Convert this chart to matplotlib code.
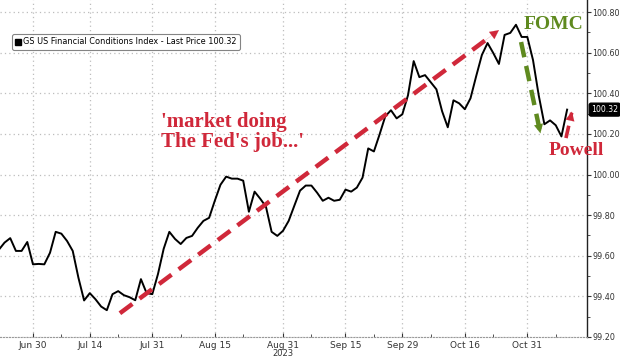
import matplotlib
matplotlib.use("Agg")
import matplotlib.pyplot as plt
from matplotlib.lines import Line2D
from matplotlib.ticker import MultipleLocator, FormatStrFormatter
import numpy as np
import pandas as pd


START_DATE = "2023-06-22"

# GS US Financial Conditions Index, one value per business day
fci_values = [
    99.630, 99.665, 99.687, 99.624, 99.624, 99.668, 99.558, 99.560, 99.558, 99.615,
    99.718, 99.709, 99.673, 99.624, 99.492, 99.380, 99.416, 99.386, 99.350, 99.332,
    99.411, 99.426, 99.406, 99.396, 99.381, 99.485, 99.416, 99.411, 99.510, 99.634,
    99.718, 99.683, 99.658, 99.688, 99.698, 99.738, 99.772, 99.787, 99.871, 99.950,
    99.990, 99.980, 99.980, 99.970, 99.817, 99.916, 99.881, 99.842, 99.718, 99.698,
    99.723, 99.772, 99.847, 99.921, 99.946, 99.946, 99.911, 99.871, 99.886, 99.871,
    99.876, 99.926, 99.916, 99.936, 99.985, 100.129, 100.114, 100.198, 100.287, 100.317,
    100.277, 100.297, 100.391, 100.559, 100.480, 100.490, 100.455, 100.420, 100.312, 100.233,
    100.366, 100.351, 100.322, 100.376, 100.485, 100.589, 100.648, 100.599, 100.545, 100.688,
    100.698, 100.738, 100.678, 100.678, 100.564, 100.391, 100.248, 100.267, 100.243, 100.188,
    100.320,
]

tick_dates = ["2023-06-30", "2023-07-14", "2023-07-31", "2023-08-15", "2023-08-31",
              "2023-09-15", "2023-09-29", "2023-10-16", "2023-10-31"]
tick_labels = ["Jun 30", "Jul 14", "Jul 31", "Aug 15", "Aug 31",
               "Sep 15", "Sep 29", "Oct 16", "Oct 31"]
last_price = 100.32
legend_label = "GS US Financial Conditions Index - Last Price 100.32"

RED = "#d0283a"
GREEN = "#5f8a1f"
GRID = "#bdbdbd"
TXT = "#333333"

dates = pd.bdate_range(START_DATE, periods=len(fci_values))
xs = np.arange(len(fci_values))
tick_pos = [dates.get_loc(pd.Timestamp(d)) for d in tick_dates]

fig = plt.figure(figsize=(6.2, 3.6), dpi=100)
ax = fig.add_axes([0.0, 1 - 337 / 360, 587 / 620, 337 / 360])

ax.plot(xs, fci_values, color="black", lw=1.4, zorder=3)

ax.set_xlim(0.2, 103.5)
ax.set_ylim(99.2, 100.86)

# axes / ticks
ax.yaxis.tick_right()
ax.yaxis.set_major_locator(MultipleLocator(0.2))
ax.yaxis.set_minor_locator(MultipleLocator(0.1))
ax.yaxis.set_major_formatter(FormatStrFormatter("%.2f"))
ax.set_xticks(tick_pos)
ax.set_xticklabels(tick_labels)
ax.set_xticks([p + 5 for p in tick_pos], minor=True)
ax.tick_params(axis="x", which="major", labelsize=6.5, colors=TXT, length=3, width=0.8, pad=3)
ax.tick_params(axis="y", which="major", labelsize=5.8, colors=TXT, length=3, width=0.8, pad=1)
ax.tick_params(axis="both", which="minor", length=2, width=0.6, colors=TXT)
ax.tick_params(axis="y", which="both", direction="out")
ax.tick_params(axis="x", which="both", direction="in")

for side in ["top", "left"]:
    ax.spines[side].set_visible(False)
ax.spines["right"].set_color("#222222")
ax.spines["right"].set_linewidth(1.0)
ax.spines["bottom"].set_color("#999999")
ax.spines["bottom"].set_linestyle(":")

ax.grid(True, which="major", color=GRID, linestyle=(0, (1, 2.5)), linewidth=0.9)

fig.text(283 / 620, 1 - 354 / 360, "2023", fontsize=6, color=TXT, ha="center", va="center")

# legend
handle = Line2D([], [], marker="s", color="black", lw=0, markersize=4.5)
leg = ax.legend([handle], [legend_label], loc="upper left",
                bbox_to_anchor=(8 / 587, 1 - 30 / 337), fontsize=5.9,
                handlelength=0.6, handletextpad=0.3, borderpad=0.4,
                frameon=True, fancybox=True, edgecolor="#666666")
leg.get_frame().set_linewidth(0.8)

# last price tag
ax.annotate(f"{last_price:.2f}", xy=(1.0, last_price), xycoords=("axes fraction", "data"),
            xytext=(3, 0), textcoords="offset points", fontsize=5.6, color="white",
            va="center", ha="left",
            bbox=dict(boxstyle="round,pad=0.25", fc="black", ec="black"))

serif = ["Liberation Serif", "DejaVu Serif"]


def dashed_arrow(x0, y0, x1, y1, color, lw=3.2):
    ax.plot([x0, x1 - (x1 - x0) * 0.04], [y0, y1 - (y1 - y0) * 0.04], color=color, lw=lw,
            linestyle=(0, (3.5, 2)), solid_capstyle="butt", zorder=4)
    ax.annotate("", xy=(x1, y1), xytext=(x1 - (x1 - x0) * 0.08, y1 - (y1 - y0) * 0.08),
                arrowprops=dict(arrowstyle="-|>", color=color, lw=0.1,
                                mutation_scale=16), zorder=4)


# annotations
dashed_arrow(21.3, 99.317, 88.4, 100.72, RED)
dashed_arrow(91.9, 100.653, 95.4, 100.19, GREEN)
dashed_arrow(99.8, 100.18, 100.85, 100.31, RED, lw=2.6)

ax.text(28.6, 100.31, "'market doing\nThe Fed's job...'", family=serif, fontsize=15,
        fontweight="bold", color=RED, ha="left", va="top", linespacing=1.05)
ax.text(97.6, 100.74, "FOMC", family=serif, fontsize=14, fontweight="bold",
        color=GREEN, ha="center", va="center")
ax.text(101.6, 100.12, "Powell", family=serif, fontsize=14, fontweight="bold",
        color=RED, ha="center", va="center")

fig.savefig("out.png", dpi=100)
